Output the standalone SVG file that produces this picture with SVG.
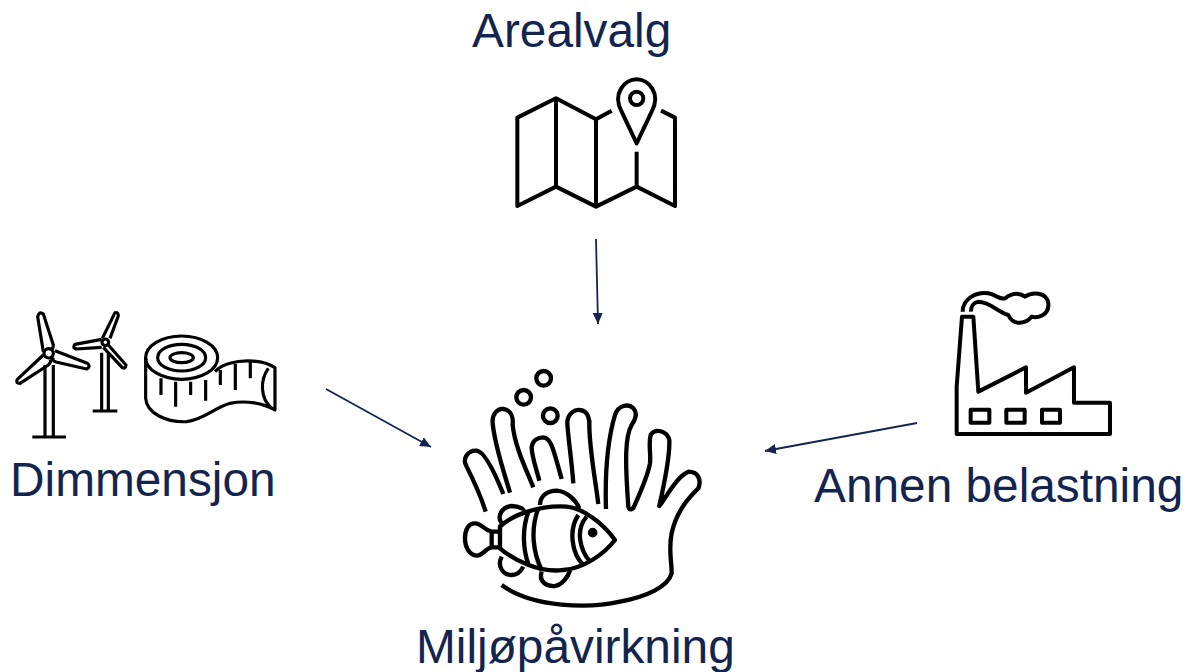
<svg xmlns="http://www.w3.org/2000/svg" width="1191" height="672" viewBox="0 0 1191 672">
<style>
.t{font-family:"Liberation Sans",Arial,sans-serif;font-size:47.8px;fill:#13254f}
.i{fill:none;stroke:#000;stroke-linejoin:round}
.c{fill:none;stroke:#13254f;stroke-width:1.8}
</style>
<defs><marker id="a" viewBox="0 0 11 10" refX="11" refY="5" markerWidth="11" markerHeight="10" markerUnits="userSpaceOnUse" orient="auto"><path d="M0 0L11 5L0 10Z" fill="#13254f"/></marker></defs>
<rect width="1191" height="672" fill="#fff"/>
<g id="connectors">
<path class="c" marker-end="url(#a)" d="M596 239L598 324"/>
<path class="c" marker-end="url(#a)" d="M326 389L431 447"/>
<path class="c" marker-end="url(#a)" d="M917 423L765 451"/>
</g>
<g id="arealvalg">
<text class="t" x="472" y="47">Arealvalg</text>
<g class="i" transform="translate(500 70) scale(.3333)" stroke-width="12">
<path d="M335 122L288 148L168 85L52 143V408L168 350L288 410L410 350L525 408V143L483 122"/>
<path d="M168 85V350M288 148V410M410 245V350"/>
<path d="M410 220L365 125C335 70 375 28 410 28C445 28 485 70 455 125Z"/>
<circle cx="410" cy="85" r="20"/>
</g>
</g>
<g id="dimmensjon">
<text class="t" x="10" y="496">Dimmensjon</text>
<g class="i" transform="translate(0 300) scale(.3333)" stroke-width="9.5">
<path d="M135 195V411M160 195V411M97 411H198"/>
<circle cx="146" cy="160" r="14"/>
<path d="M130 155L113 50Q118 32 130 42L160 135Q160 150 150 146"/>
<path d="M165 152L262 190Q274 200 260 207L168 186Q155 182 160 172"/>
<path d="M130 165L52 238Q46 250 60 250L145 195Q155 185 150 178"/>
<path d="M305 158V333M325 158V333M278 333H352"/>
<circle cx="316" cy="127" r="10"/>
<path d="M307 115L345 38Q355 35 355 48L330 115"/>
<path d="M305 118L225 133Q216 143 228 147L305 142"/>
<path d="M325 135L378 195Q376 208 367 203L310 142"/>
<ellipse cx="545" cy="173" rx="108" ry="65"/>
<ellipse cx="545" cy="173" rx="72" ry="40"/>
<ellipse cx="545" cy="173" rx="35" ry="15"/>
<path d="M437 173V295C440 340 500 368 560 365C610 360 640 325 690 310C740 300 790 310 825 330V203C790 180 730 178 690 190C670 195 655 205 645 215"/>
<path d="M805 205C780 240 780 295 815 325"/>
<path d="M483 235V285M527 245V320M572 245V285M617 240V302M661 210V255M706 192V270M751 185V235"/>
</g>
</g>
<g id="annen">
<text class="t" x="814" y="502">Annen belastning</text>
<g class="i" transform="translate(940 280) scale(.3333)" stroke-width="12">
<path d="M66 110H100L115 335L258 262V338L402 262V368H510V462H50V320Z"/>
<rect x="92" y="389" width="56" height="39"/>
<rect x="199" y="389" width="55" height="39"/>
<rect x="306" y="389" width="54" height="39"/>
<path d="M68 95C68 55 110 35 145 40C170 45 180 60 195 55C215 40 235 35 255 50C275 35 320 35 325 70C328 105 295 115 275 110C260 130 220 140 205 105C170 95 150 65 115 65C100 68 92 80 93 95"/>
</g>
</g>
<g id="miljo">
<text class="t" x="416" y="663">Miljøpåvirkning</text>
<g class="i" transform="translate(440 360) scale(.3333)" stroke-width="13">
<circle cx="311" cy="55" r="22"/><circle cx="251" cy="112" r="22"/><circle cx="331" cy="167" r="22"/>
<path d="M137 455C120 400 100 360 80 320C65 295 85 270 110 272C135 275 165 340 190 402"/>
<path d="M210 398C190 330 165 260 158 190C155 160 175 145 190 147C215 150 220 175 218 195C225 260 255 320 280 382"/>
<path d="M298 362C290 330 275 290 275 262C278 240 295 232 310 232C335 235 340 270 365 357"/>
<path d="M400 370C395 300 385 240 382 190C382 160 405 148 420 150C445 152 450 180 448 200C450 280 465 350 475 432"/>
<path d="M498 447C495 350 500 250 525 165C535 135 565 130 580 145C595 160 585 180 575 195C555 230 555 300 565 440C568 452 578 450 582 440C600 400 625 340 630 310C633 280 625 250 632 225C645 205 680 210 688 240C690 280 680 340 658 438C680 410 710 350 745 335C775 335 785 360 775 385C750 410 710 450 695 520C685 570 695 600 695 640C685 680 620 710 540 725C450 745 280 745 185 675"/>
<path d="M180 500C215 465 300 435 380 440C430 445 490 490 525 540C490 585 430 625 370 630C300 640 220 600 180 565Z"/>
<path d="M180 515H155V562H180M155 515C130 510 125 490 105 490C85 490 75 510 75 535C75 565 90 585 110 587C130 587 135 565 155 562"/>
<path d="M185 490C170 470 185 440 215 438C240 438 255 450 250 455"/>
<path d="M300 435C300 410 320 392 350 392C385 395 410 425 418 445"/>
<path d="M185 590C170 620 190 645 215 645C235 645 245 630 250 620"/>
<path d="M305 635C295 665 320 680 345 678C365 675 385 650 390 632"/>
<path d="M265 455C245 510 250 570 265 612M295 445C270 510 280 580 305 630M415 465C385 510 395 580 430 615M440 470C405 510 420 570 450 605"/>
<circle cx="458" cy="518" r="8" fill="#000"/>
</g>
</g>
</svg>
